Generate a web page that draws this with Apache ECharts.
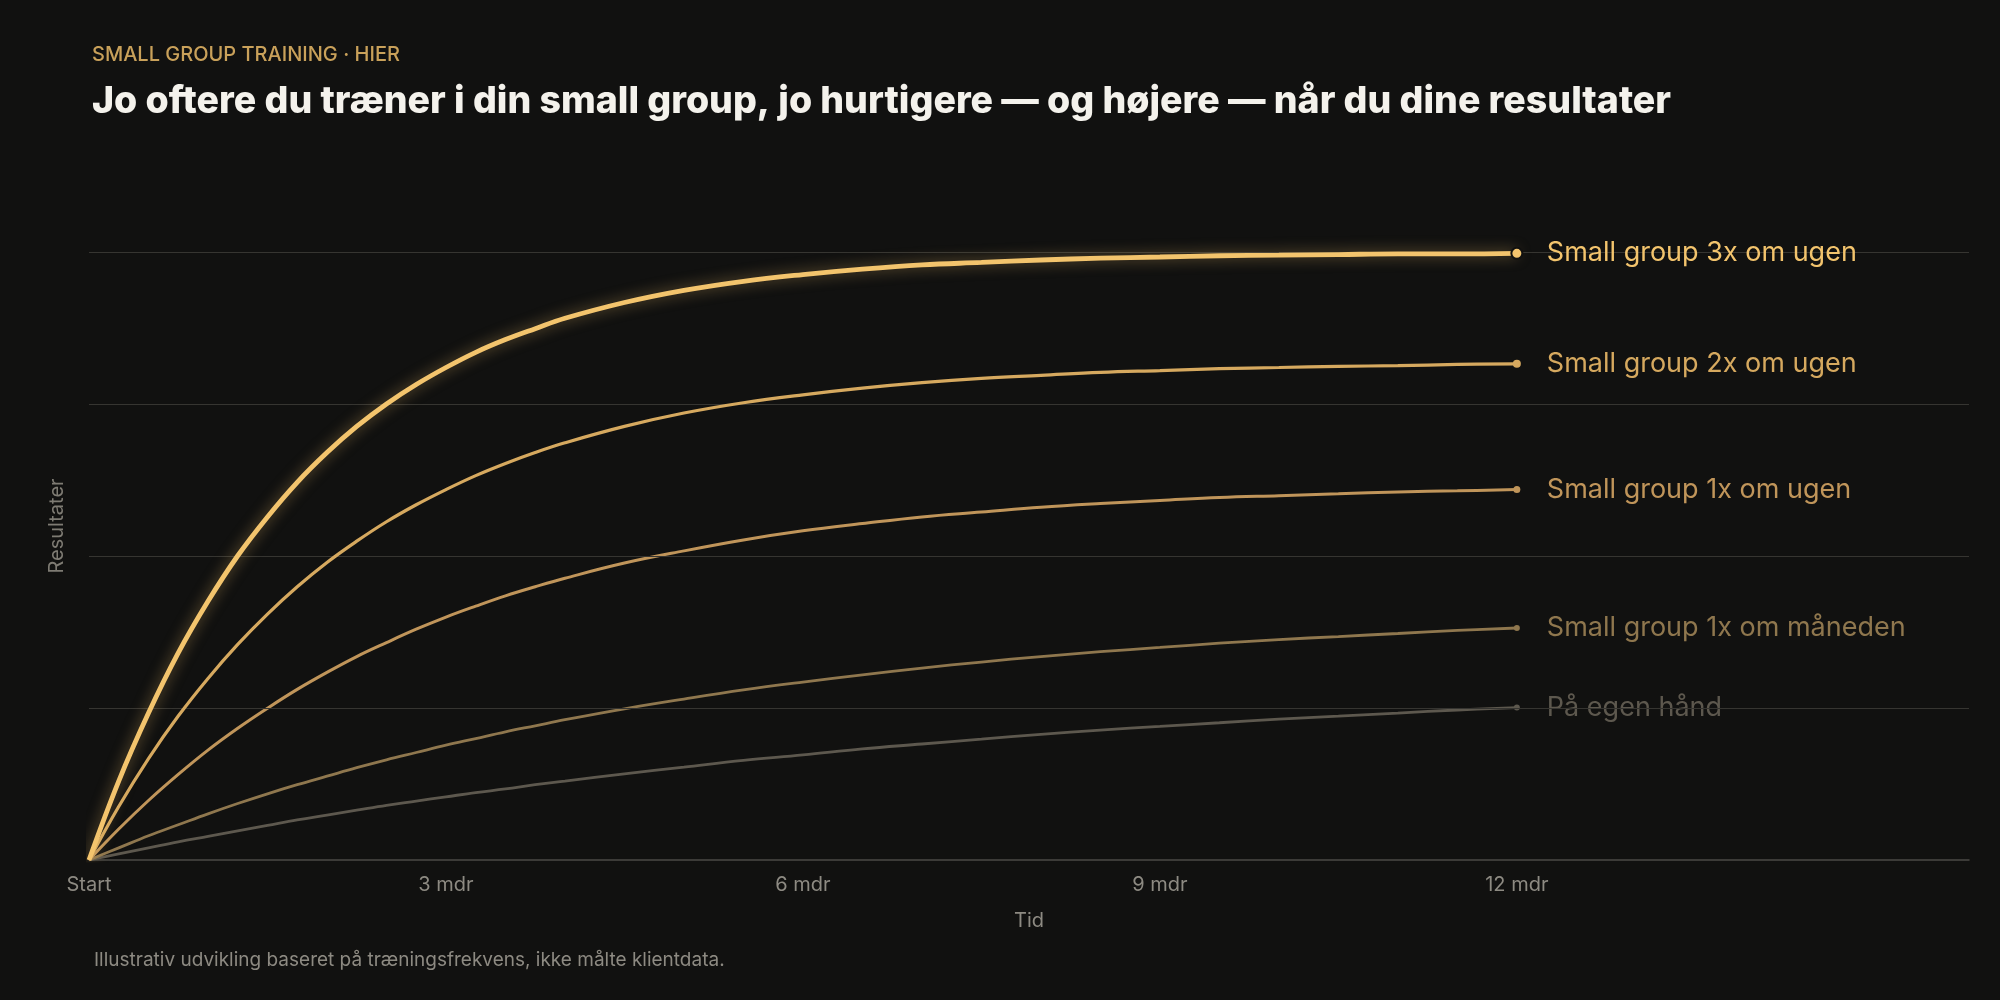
<!DOCTYPE html>
<html>
<head>
<meta charset="utf-8">
<script src="https://cdn.jsdelivr.net/npm/echarts@6/dist/echarts.min.js"></script>
<style>
html,body{margin:0;padding:0;background:#111110;}
#chart{width:2000px;height:1000px;}
</style>
</head>
<body>
<div id="chart"></div>
<script>
// ---- data ----
const months = [0,0.25,0.5,0.75,1,1.25,1.5,1.75,2,2.25,2.5,2.75,3,3.25,3.5,3.75,4,4.5,5,5.5,6,6.5,7,7.5,8,8.5,9,9.5,10,10.5,11,11.5,12];
const seriesNames = ['På egen hånd','Small group 1x om måneden','Small group 1x om ugen','Small group 2x om ugen','Small group 3x om ugen'];
const ownHand   = [0,1.0,2.0,3.0,3.9,4.8,5.7,6.6,7.4,8.2,9.0,9.7,10.4,11.1,11.7,12.4,13.0,14.2,15.3,16.4,17.3,18.3,19.1,19.9,20.7,21.4,22.0,22.6,23.2,23.7,24.2,24.7,25.1];
const monthly1x = [0,2.0,4.0,5.8,7.6,9.3,10.9,12.4,13.8,15.2,16.5,17.7,18.9,20.0,21.1,22.1,23.1,24.9,26.5,28.0,29.3,30.5,31.6,32.6,33.5,34.3,35.0,35.7,36.3,36.8,37.3,37.8,38.2];
const weekly1x  = [0,5.1,9.8,14.1,18.1,21.7,25.0,28.1,30.9,33.5,35.8,38.0,40.0,41.8,43.5,45.0,46.4,48.9,50.9,52.7,54.2,55.4,56.5,57.3,58.1,58.7,59.2,59.7,60.0,60.3,60.6,60.8,61.0];
const weekly2x  = [0,8.8,16.7,23.7,29.9,35.5,40.5,45.0,49.0,52.5,55.7,58.5,61.0,63.3,65.3,67.1,68.7,71.4,73.6,75.3,76.6,77.7,78.6,79.3,79.8,80.3,80.6,80.9,81.1,81.3,81.4,81.6,81.7];
const weekly3x  = [0,13.0,24.2,34.1,42.6,50.1,56.5,62.2,67.1,71.4,75.1,78.3,81.1,83.6,85.7,87.5,89.2,91.8,93.8,95.3,96.4,97.3,98.0,98.4,98.8,99.1,99.3,99.5,99.6,99.7,99.8,99.8,99.9];
const gridValues = [25,50,75,100];
const tickValues = [0,3,6,9,12];
const tickLabels = ['Start','3 mdr','6 mdr','9 mdr','12 mdr'];

// ---- styles ----
const FONT = 'Inter, "Noto Sans", sans-serif';
const colors = ['#5d584e','#8f774e','#c0955a','#d6a95f','#f3c46d'];
const widths = [2.8,2.8,3,3.2,4.8];
const dotSizes = [6,6,7,8,11];
const valueSets = [ownHand, monthly1x, weekly1x, weekly2x, weekly3x];

function toData(vals, i){
  return months.map((m, k) => {
    const item = {value:[m, vals[k]]};
    if (k === months.length - 1) {
      item.symbol = 'circle';
      item.symbolSize = dotSizes[i];
      item.itemStyle = {color: colors[i], borderColor: '#111110', borderWidth: i === 4 ? 2 : 0};
    } else {
      item.symbol = 'none';
    }
    return item;
  });
}

const series = valueSets.map((vals, i) => {
  const s = {
    name: seriesNames[i],
    type: 'line',
    smooth: 0.4,
    showSymbol: true,
    symbol: 'none',
    z: 2 + i,
    data: toData(vals, i),
    lineStyle: {color: colors[i], width: widths[i]},
    itemStyle: {color: colors[i]},
    endLabel: {
      show: true,
      formatter: '{a}',
      color: colors[i],
      fontFamily: FONT,
      fontSize: 27,
      distance: 30
    },
    emphasis: {disabled: true},
    silent: true
  };
  if (i === 4) {
    s.lineStyle.shadowBlur = 14;
    s.lineStyle.shadowColor = 'rgba(243,196,109,0.5)';
  }
  if (i === 0) {
    s.markLine = {
      silent: true,
      symbol: 'none',
      label: {show: false},
      lineStyle: {color: '#363531', width: 1, type: 'solid'},
      data: gridValues.map(v => ({yAxis: v}))
    };
  }
  return s;
});

const chart = echarts.init(document.getElementById('chart'));
chart.setOption({
  animation: false,
  backgroundColor: '#111110',
  title: [
    {text: 'SMALL GROUP TRAINING · HIER', left: 87, top: 40,
     textStyle: {color: '#c9a15a', fontSize: 20, fontWeight: 500, fontFamily: FONT}},
    {text: 'Jo oftere du træner i din small group, jo hurtigere — og højere — når du dine resultater', left: 87, top: 78,
     textStyle: {color: '#f4f2ec', fontSize: 37.5, fontWeight: 800, fontFamily: FONT}},
    {text: 'Illustrativ udvikling baseret på træningsfrekvens, ikke målte klientdata.', left: 89, top: 946,
     textStyle: {color: '#8d8a82', fontSize: 19, fontWeight: 400, fontFamily: FONT}}
  ],
  grid: {left: 89, right: 31, top: 192, bottom: 140},
  xAxis: {
    type: 'value', min: 0, max: 15.8, interval: 3,
    name: 'Tid', nameLocation: 'middle', nameGap: 51,
    nameTextStyle: {color: '#8d8a82', fontSize: 20, fontFamily: FONT},
    axisLine: {show: true, lineStyle: {color: '#4b4945', width: 1.5}},
    axisTick: {show: false},
    splitLine: {show: false},
    axisLabel: {
      color: '#8d8a82', fontSize: 20, fontFamily: FONT, margin: 15,
      showMaxLabel: false,
      formatter: v => { const k = tickValues.indexOf(v); return k >= 0 ? tickLabels[k] : ''; }
    }
  },
  yAxis: {
    type: 'value', min: 0, max: 110,
    name: 'Resultater', nameLocation: 'middle', nameGap: 22, nameRotate: 90,
    nameTextStyle: {color: '#7e7b73', fontSize: 20, fontFamily: FONT},
    axisLine: {show: false},
    axisTick: {show: false},
    axisLabel: {show: false},
    splitLine: {show: false}
  },
  series: series
});
</script>
</body>
</html>
